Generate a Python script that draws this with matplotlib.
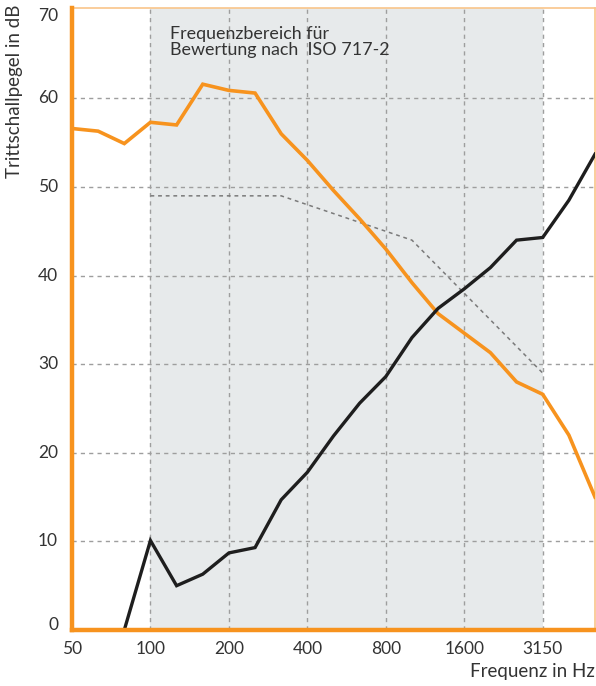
import matplotlib
matplotlib.use("Agg")
import matplotlib.pyplot as plt
import matplotlib.transforms as mtrans
import numpy as np

plt.rcParams['font.family'] = ['Lato', 'DejaVu Sans']

freqs = [50, 63, 80, 100, 125, 160, 200, 250, 315, 400, 500, 630, 800,
         1000, 1250, 1600, 2000, 2500, 3150, 4000, 5000]
tick_labels = ["50", "100", "200", "400", "800", "1600", "3150"]
tick_freqs = [50, 100, 200, 400, 800, 1600, 3150]

orange_vals = [56.6, 56.3, 54.9, 57.3, 57.0, 61.6, 60.9, 60.6, 56.0, 53.0,
               49.6, 46.4, 43.0, 39.2, 35.7, 33.5, 31.3, 28.0, 26.6, 22.0, 15.0]
black_vals = [np.nan, np.nan, 0.0, 10.1, 5.0, 6.3, 8.7, 9.3, 14.7, 17.8,
              21.9, 25.6, 28.6, 33.0, 36.3, 38.5, 40.9, 44.0, 44.3, 48.5, 53.7]
ref_freqs = [100, 125, 160, 200, 250, 315, 400, 500, 630, 800, 1000,
             1250, 1600, 2000, 2500, 3150]
ref_vals = [49, 49, 49, 49, 49, 49, 48, 47, 46, 45, 44, 41, 38, 35, 32, 29]

yticks = [0, 10, 20, 30, 40, 50, 60, 70]

ORANGE = "#f7931e"
LIGHT_OR = "#f9c58a"
TEXT = "#333333"

idx = {f: i for i, f in enumerate(freqs)}
x = np.arange(len(freqs))

fig = plt.figure(figsize=(5.96, 6.86), dpi=100)
ax = fig.add_axes([72/596, 1-630/686, (595-72)/596, (630-8)/686])

ax.set_xlim(0, len(freqs) - 1)
ax.set_ylim(0, 70.2)

# shaded evaluation range
ax.axvspan(idx[100], idx[3150], color="#e7eaeb", zorder=0, lw=0)

# grid
for yv in yticks[1:-1]:
    ax.axhline(yv, color="#9e9e9e", lw=1, ls=(0, (3, 3)), zorder=1)
for f in tick_freqs[1:]:
    ax.axvline(idx[f], color="#9e9e9e", lw=1, ls=(0, (3, 3)), zorder=1)

# reference curve
ax.plot([idx[f] for f in ref_freqs], ref_vals, color="#7a7a7a", lw=1.1,
        ls=(0, (2.5, 2.5)), zorder=2)

ax.plot(x, orange_vals, color=ORANGE, lw=2.6, zorder=3, clip_on=True,
        solid_joinstyle="miter")
ax.plot(x, black_vals, color="#1e1e1e", lw=2.4, zorder=3, clip_on=True,
        solid_joinstyle="miter")

ax.set_xticks([idx[f] for f in tick_freqs])
ax.set_xticklabels(tick_labels)
ax.set_yticks(yticks)
ax.set_yticklabels([str(v) for v in yticks])
ax.tick_params(axis="both", length=0, labelsize=12.5, colors=TEXT)
ax.tick_params(axis="x", pad=8)
ax.tick_params(axis="y", pad=10)
fig.canvas.draw()
ylabs = ax.get_yticklabels()
for lab in ylabs:
    lab.set_verticalalignment("center")
# nudge end labels as in reference
ylabs[0].set_transform(ylabs[0].get_transform() +
                       mtrans.ScaledTranslation(0, 5/100, fig.dpi_scale_trans))
ylabs[-1].set_transform(ylabs[-1].get_transform() +
                        mtrans.ScaledTranslation(0, -6/100, fig.dpi_scale_trans))

for s in ["left", "bottom"]:
    ax.spines[s].set_color(ORANGE)
    ax.spines[s].set_linewidth(3.2)
    ax.spines[s].set_zorder(5)
for s in ["top", "right"]:
    ax.spines[s].set_color(LIGHT_OR)
    ax.spines[s].set_linewidth(1.2)

ax.text(idx[125] - 0.25, 68.2, "Frequenzbereich für\nBewertung nach  ISO 717-2",
        fontsize=12.9, color=TEXT, va="top", ha="left", linespacing=1.0)

fig.text(595/596, 1-672/686, "Frequenz in Hz", fontsize=13.5, color=TEXT,
         ha="right", va="center")
fig.text(15/596, 1-5/686, "Trittschallpegel in dB", fontsize=13.5, color=TEXT,
         rotation=90, ha="center", va="top")

fig.savefig("out.png", dpi=100)
